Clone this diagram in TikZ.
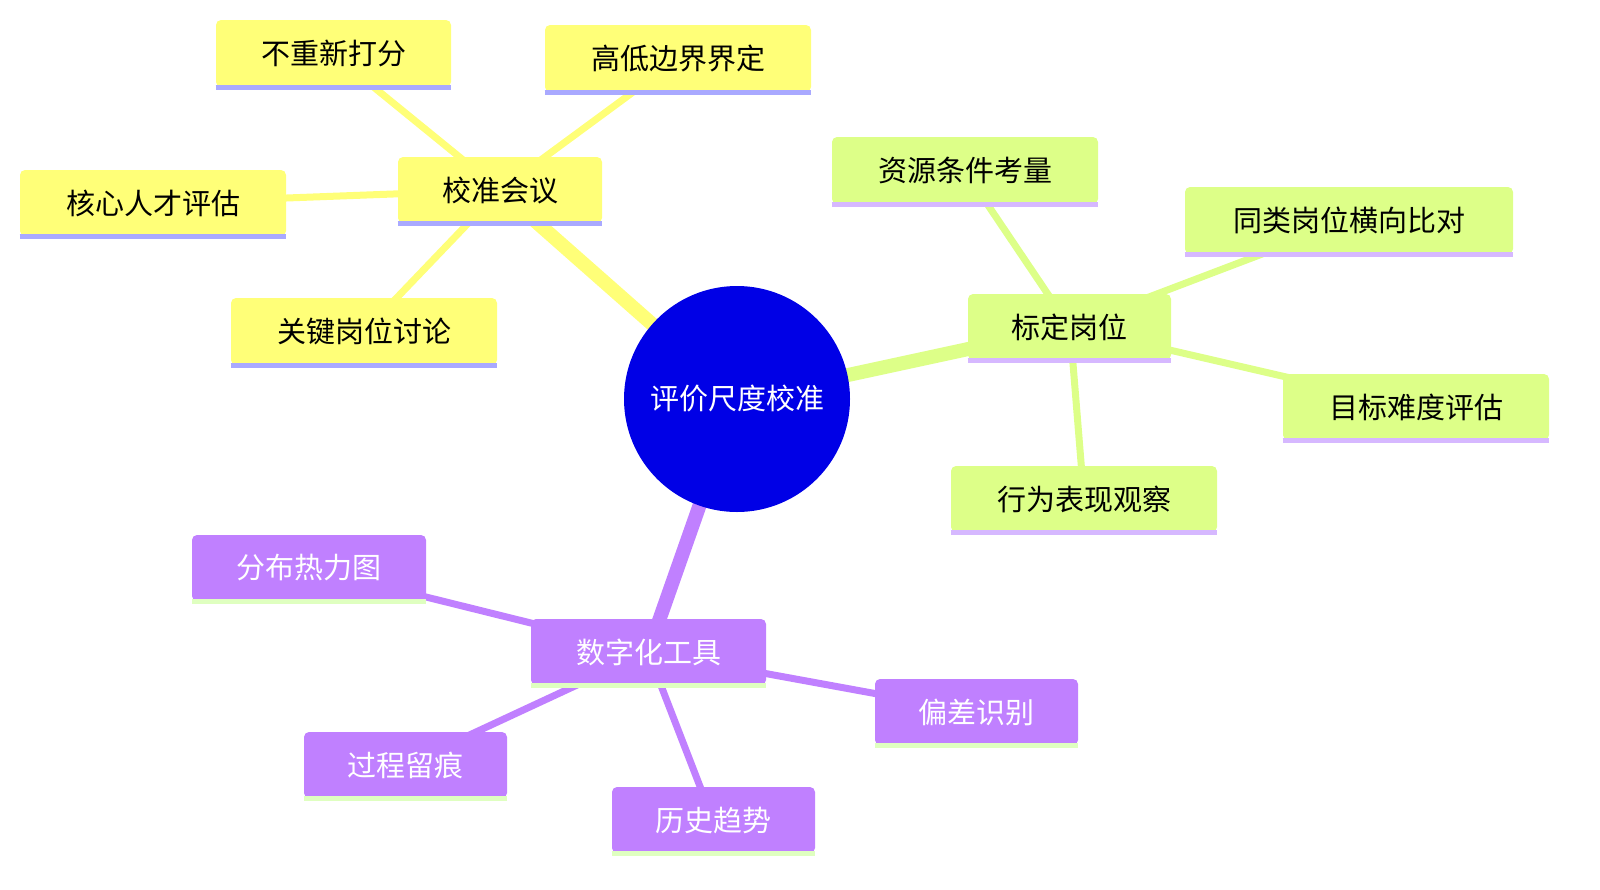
\documentclass[tikz,border=0pt]{standalone}
\usepackage{fontspec}
\setmainfont{Noto Sans CJK SC}
\begin{document}
\begin{tikzpicture}[x=0.5pt,y=-0.5pt,
 box/.style={rounded corners=2.5pt,inner sep=0pt,font=\fontsize{14.5}{16}\selectfont},
 yb/.style={box,fill=yel},gb/.style={box,fill=grn},pb/.style={box,fill=pur,text=white},
 yl/.style={line width=2.5pt,draw=ylu},gl/.style={line width=2.5pt,draw=gru},pl/.style={line width=2.5pt,draw=puu}]
\definecolor{yel}{HTML}{FFFF78}\definecolor{ylu}{HTML}{A9A9FF}
\definecolor{grn}{HTML}{DDFF88}\definecolor{gru}{HTML}{D6B8FF}
\definecolor{pur}{HTML}{C080FF}\definecolor{puu}{HTML}{DFFFC0}
\definecolor{ctr}{HTML}{0000E6}
\useasboundingbox (0,0) rectangle (1600,889);
\newcommand\bx[7]{\node[#1,minimum width={(#4-#3)*0.5pt},minimum height={(#6-#5)*0.5pt}] (#2) at ({(#3+#4)/2},{(#5+#6)/2}) {#7};}
\coordinate (c) at (737,399);
\path (500,190) coordinate (m1) (1070,327) coordinate (m2) (648,652) coordinate (m3);
\draw[yel,line width=7pt] (c) -- (m1);
\draw[grn,line width=7pt] (c) -- (m2);
\draw[pur,line width=7pt] (c) -- (m3);
\foreach \a in {(333,54),(678,59),(153,203),(364,332)} \draw[yel,line width=3.5pt] (m1) -- \a;
\foreach \a in {(965,171),(1349,221),(1416,407),(1084,499)} \draw[grn,line width=3.5pt] (m2) -- \a;
\foreach \a in {(309,568),(976,712),(405,765),(713,820)} \draw[pur,line width=3.5pt] (m3) -- \a;
\node[circle,fill=ctr,minimum size=113pt,inner sep=0pt,text=white,font=\fontsize{14.5}{16}\selectfont] (center) at (c) {评价尺度校准};
\bx{yb}{a1}{216}{451}{20}{87}{不重新打分}
\bx{yb}{a2}{545}{811}{25}{92}{高低边界界定}
\bx{yb}{a3}{20}{286}{170}{236}{核心人才评估}
\bx{yb}{A}{398}{602}{157}{223}{校准会议}
\bx{yb}{a4}{231}{497}{298}{365}{关键岗位讨论}
\bx{gb}{b1}{832}{1098}{137}{204}{资源条件考量}
\bx{gb}{b2}{1185}{1513}{187}{254}{同类岗位横向比对}
\bx{gb}{B}{968}{1171}{294}{360}{标定岗位}
\bx{gb}{b3}{1283}{1549}{374}{440}{目标难度评估}
\bx{gb}{b4}{951}{1217}{466}{532}{行为表现观察}
\bx{pb}{d1}{192}{426}{535}{601}{分布热力图}
\bx{pb}{D}{531}{766}{619}{685}{数字化工具}
\bx{pb}{d2}{875}{1078}{679}{745}{偏差识别}
\bx{pb}{d3}{304}{507}{732}{798}{过程留痕}
\bx{pb}{d4}{612}{815}{787}{853}{历史趋势}
\foreach \n in {a1,a2,a3,A,a4} \draw[yl] (\n.south west) -- (\n.south east);
\foreach \n in {b1,b2,B,b3,b4} \draw[gl] (\n.south west) -- (\n.south east);
\foreach \n in {d1,D,d2,d3,d4} \draw[pl] (\n.south west) -- (\n.south east);
\end{tikzpicture}
\end{document}
